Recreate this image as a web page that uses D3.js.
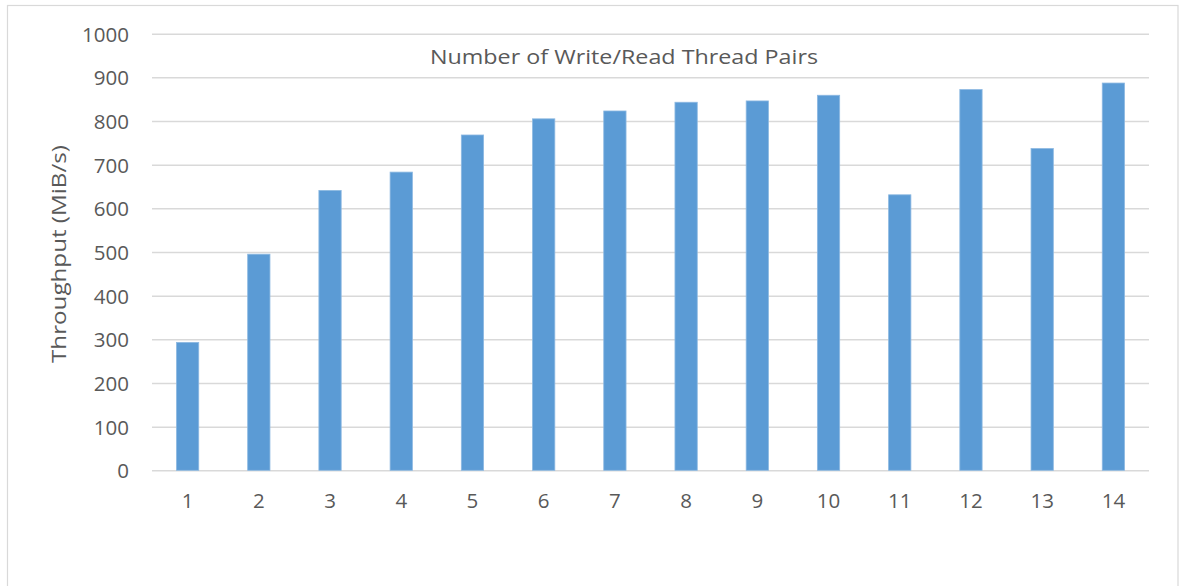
<!DOCTYPE html>
<html>
<head>
<meta charset="utf-8">
<script src="https://cdn.jsdelivr.net/npm/d3@7"></script>
<style>
  html, body { margin: 0; padding: 0; background: #fff; }
  svg { display: block; }
  text { font-family: "Open Sans", Lato, sans-serif; fill: #595959; }
</style>
</head>
<body>
<svg id="chart" width="1181" height="586"></svg>
<script>
const categories = ["1","2","3","4","5","6","7","8","9","10","11","12","13","14"];
const throughput = [293, 495, 641, 683, 768, 805, 823, 843, 846, 859, 631, 872, 737, 887];
const yTicks = [0, 100, 200, 300, 400, 500, 600, 700, 800, 900, 1000];
const titleText = "Number of Write/Read Thread Pairs";
const yLabelText = "Throughput (MiB/s)";

const FONT = "'Open Sans', Lato, sans-serif";
const svg = d3.select("#chart");
const plot = { left: 152, right: 1149, top: 33.7, bottom: 470.3 };

// outer border
svg.append("rect")
  .attr("x", 7.5).attr("y", 5.5)
  .attr("width", 1178 - 7.5).attr("height", 600)
  .attr("fill", "#fff").attr("stroke", "#d9d9d9").attr("stroke-width", 1.2);

const x = d3.scaleBand()
  .domain(categories)
  .range([plot.left, plot.right])
  .paddingInner(0.687).paddingOuter(0.3435);

const y = d3.scaleLinear().domain([0, 1000]).range([plot.bottom, plot.top]);

// gridlines + y tick labels
const yAxis = d3.axisLeft(y).tickValues(yTicks).tickFormat(d3.format("d"))
  .tickSize(-(plot.right - plot.left)).tickPadding(23);
const gy = svg.append("g").attr("transform", `translate(${plot.left},0)`).call(yAxis);
gy.select(".domain").remove();
gy.selectAll(".tick line").attr("stroke", "#d9d9d9").attr("stroke-width", 1.5);
gy.selectAll(".tick text").attr("font-size", 20.5).attr("fill", "#595959")
  .attr("font-family", FONT).attr("dy", "0.36em");

// bars
svg.append("g").selectAll("rect")
  .data(throughput)
  .join("rect")
  .attr("x", (d, i) => x(categories[i]))
  .attr("y", d => y(d))
  .attr("width", x.bandwidth())
  .attr("height", d => y(0) - y(d))
  .attr("fill", "#5b9bd5")
  .attr("stroke", "#8db9e2")
  .attr("stroke-width", 0.8);

// x axis labels
const xAxis = d3.axisBottom(x).tickSize(0).tickPadding(23);
const gx = svg.append("g").attr("transform", `translate(0,${plot.bottom})`).call(xAxis);
gx.select(".domain").remove();
gx.selectAll(".tick text").attr("font-size", 20.5).attr("fill", "#595959")
  .attr("font-family", FONT);

// title
svg.append("text")
  .attr("x", 624).attr("y", 64)
  .attr("text-anchor", "middle")
  .attr("font-size", 20.5)
  .attr("textLength", 388).attr("lengthAdjust", "spacingAndGlyphs")
  .text(titleText);

// y axis label
svg.append("text")
  .attr("transform", "translate(66,254) rotate(-90)")
  .attr("text-anchor", "middle")
  .attr("font-size", 20.5)
  .attr("textLength", 218).attr("lengthAdjust", "spacingAndGlyphs")
  .text(yLabelText);
</script>
</body>
</html>
